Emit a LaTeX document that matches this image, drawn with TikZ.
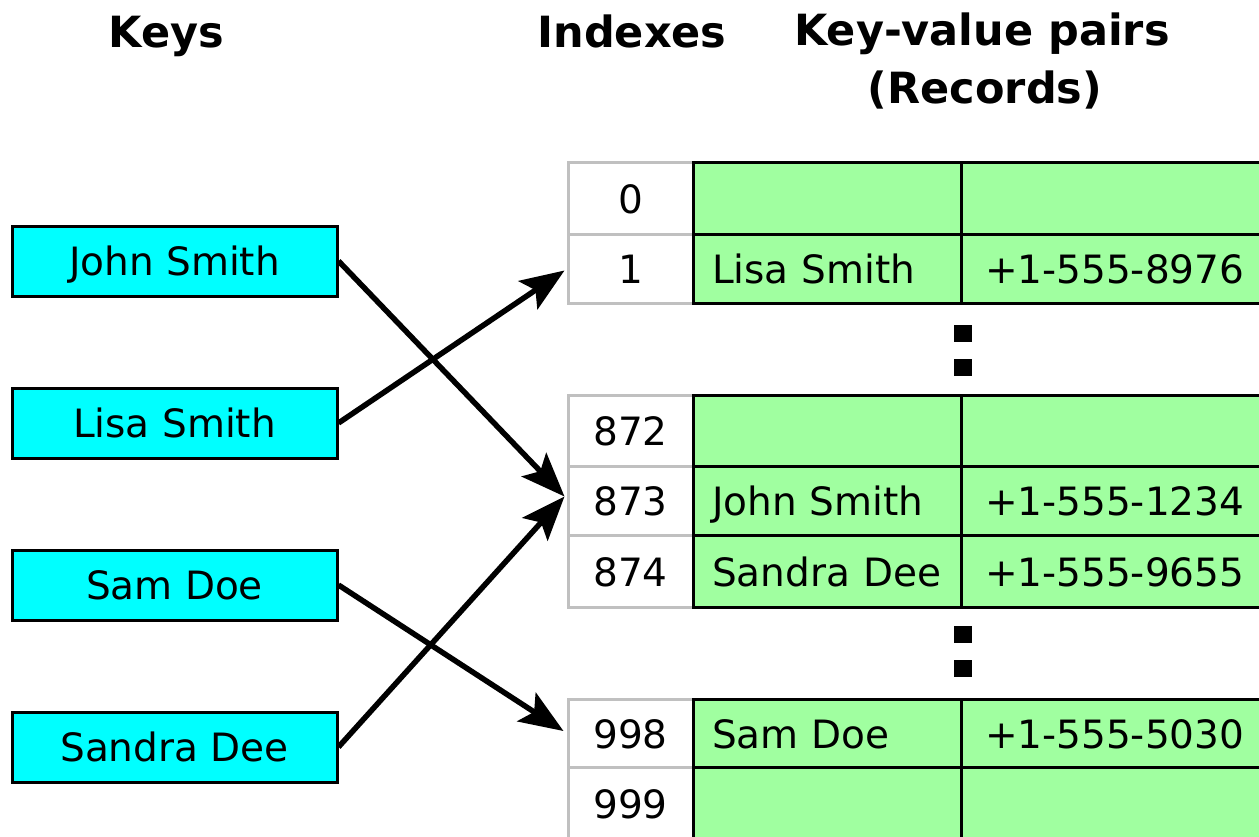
\documentclass[tikz,border=0pt]{standalone}
\usepackage{fontspec}
\setmainfont{DejaVu Sans}
\usetikzlibrary{arrows.meta}
\definecolor{keycyan}{RGB}{0,255,255}
\definecolor{recgreen}{RGB}{160,255,160}
\definecolor{idxgrey}{RGB}{192,192,192}
\newcommand\celltext{\fontsize{39}{47}\selectfont}
\newcommand\tablerow[6]{%
  \node[idxcell, minimum height=#3pt] (i#1) at (630.5,#2) {#4};
  \node[keycell, minimum height=#3pt] (k#1) at (827,#2) {#5};
  \node[valcell, minimum height=#3pt] (v#1) at (1130.5,#2) {#6};
}
\begin{document}
\begin{tikzpicture}[x=1pt,y=-1pt,
  keybox/.style={draw=black, line width=3pt, fill=keycyan, minimum width=325pt,
    minimum height=70pt, inner sep=0pt, font=\celltext, text height=28pt, text depth=0pt},
  idxcell/.style={draw=idxgrey, line width=3pt, fill=white, minimum width=125pt,
    inner sep=0pt, font=\celltext, text height=30pt, text depth=0pt},
  keycell/.style={draw=black, line width=3pt, fill=recgreen, text width=230pt,
    inner xsep=19pt, inner ysep=0pt, align=left, font=\celltext, text height=30pt, text depth=0pt},
  valcell/.style={draw=black, line width=3pt, fill=recgreen, text width=291pt,
    inner xsep=24pt, inner ysep=0pt, align=left, font=\celltext, text height=30pt, text depth=0pt},
  header/.style={font=\fontsize{43}{52}\selectfont\bfseries, anchor=base, inner sep=0pt},
  arr/.style={line width=5.5pt, -{Stealth[length=44pt,width=34pt,inset=9pt]}},
  vdot/.style={fill=black, minimum width=18pt, minimum height=17pt, inner sep=0pt}
]
\useasboundingbox (0,0) rectangle (1259,836);
\fill[white] (0,0) rectangle (1259,836);

% headers
\node[header] (hkeys) at (166.5,47) {Keys};
\node[header] (hidx) at (632,47) {Indexes};
\node[header] (hkv) at (982,45) {Key-value pairs};
\node[header] (hrec) at (985,103) {(Records)};

% keys
\node[keybox] (john) at (174.5,261) {John Smith};
\node[keybox] (lisa) at (174.5,423) {Lisa Smith};
\node[keybox] (sam) at (174.5,585) {Sam Doe};
\node[keybox] (sandra) at (174.5,747) {Sandra Dee};

% table
\tablerow{0}{198}{72}{0}{}{}
\tablerow{1}{268.5}{69}{1}{Lisa Smith}{+1-555-8976}
\tablerow{872}{430.5}{71}{872}{}{}
\tablerow{873}{500.5}{69}{873}{John Smith}{+1-555-1234}
\tablerow{874}{571}{72}{874}{Sandra Dee}{+1-555-9655}
\tablerow{998}{733}{68}{998}{Sam Doe}{+1-555-5030}
\tablerow{999}{803}{72}{999}{}{}

% ellipsis dots
\node[vdot] (d1) at (963,333) {};
\node[vdot] (d2) at (963,367.5) {};
\node[vdot] (d3) at (963,634.5) {};
\node[vdot] (d4) at (963,668.5) {};

% arrows
\draw[arr] (john.east) -- ([shift={(-2,-4)}]i873.west);
\draw[arr] (lisa.east) -- ([shift={(-2,2)}]i1.west);
\draw[arr] (sam.east) -- ([shift={(-3,-2)}]i998.west);
\draw[arr] (sandra.east) -- ([shift={(-2,-4)}]i873.west);
\end{tikzpicture}
\end{document}
